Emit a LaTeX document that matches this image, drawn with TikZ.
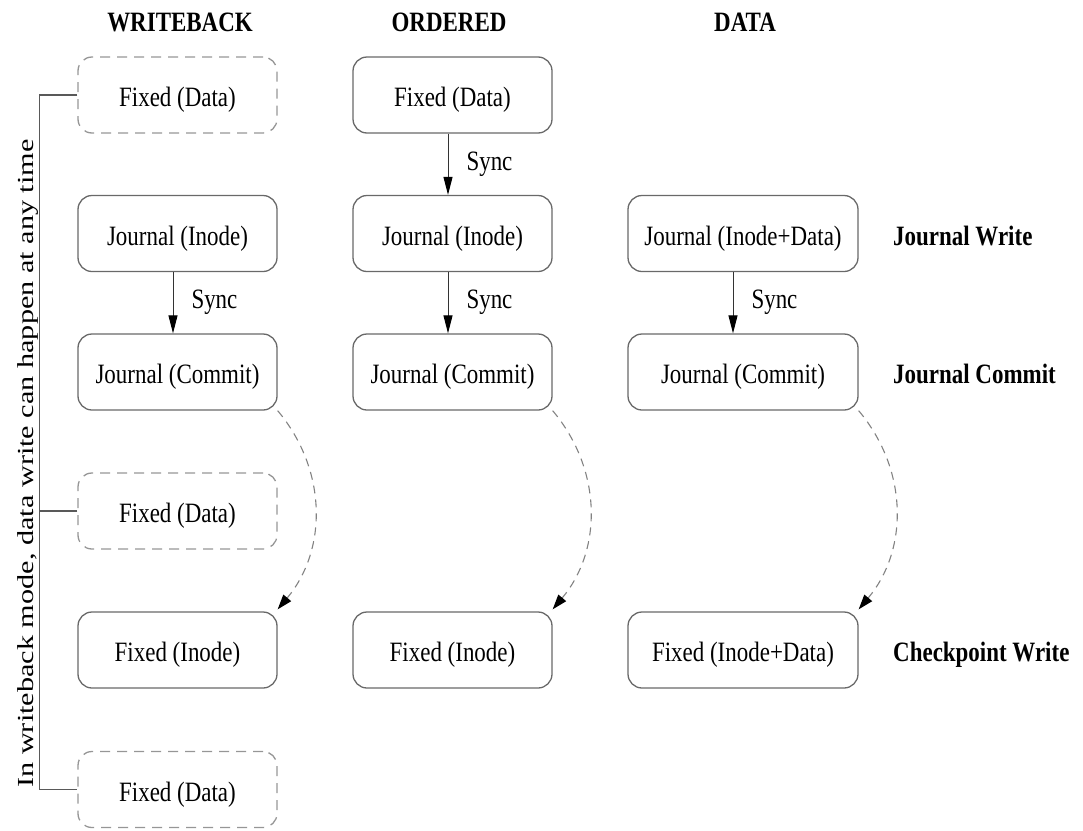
\documentclass[tikz,border=0pt]{standalone}
\usepackage{graphicx}
\usepackage{fontspec}
\setmainfont{Liberation Serif}[FakeStretch=0.82]
\newfontfamily\uprightserif{Liberation Serif}
\usetikzlibrary{arrows.meta}

\definecolor{boxgray}{RGB}{105,105,105}
\definecolor{dashgray}{RGB}{150,150,150}
\definecolor{linkgray}{RGB}{130,130,130}

\begin{document}
\begin{tikzpicture}[x=1pt,y=-1pt,
  txt/.style={font=\fontsize{28}{32}\selectfont, text height=23pt, text depth=0pt, inner sep=0pt},
  box/.style={txt, draw=boxgray, line width=1.3pt, rounded corners=14pt,
    minimum height=76pt, minimum width=199pt},
  widebox/.style={box, minimum width=230pt},
  ghost/.style={box, draw=dashgray, dash pattern=on 10pt off 7pt},
  hdr/.style={font=\bfseries\fontsize{28}{32}\selectfont, inner sep=0pt, anchor=base},
  phase/.style={txt, font=\bfseries\fontsize{28}{32}\selectfont, anchor=west},
  synclbl/.style={font=\fontsize{28}{32}\selectfont, inner sep=0pt, anchor=base west, xshift=18pt, yshift=-6pt},
  sync/.style={draw=black!80, line width=1pt, -{Triangle[length=18pt,width=9pt,color=black]}},
  flow/.style={draw=linkgray, line width=1.1pt, dash pattern=on 8pt off 6pt,
    -{Triangle[length=15pt,width=10pt,color=black]}},
  bracket/.style={draw=black!65, line width=1.3pt}
]
\useasboundingbox (0,0) rectangle (1083,830);

% column headings
\node[hdr] (hwb)  at (180,31) {WRITEBACK};
\node[hdr] (hord) at (449,31) {ORDERED};
\node[hdr] (hdat) at (745,31) {DATA};

% writeback mode
\node[ghost] (wfd1) at (177.5,95)    {Fixed (Data)};
\node[box]   (wji)  at (177.5,233.5) {Journal (Inode)};
\node[box]   (wjc)  at (177.5,372)   {Journal (Commit)};
\node[ghost] (wfd2) at (177.5,511)   {Fixed (Data)};
\node[box]   (wfi)  at (177.5,650)   {Fixed (Inode)};
\node[ghost] (wfd3) at (177.5,789.5) {Fixed (Data)};

% ordered mode
\node[box] (ofd) at (452.5,95)    {Fixed (Data)};
\node[box] (oji) at (452.5,233.5) {Journal (Inode)};
\node[box] (ojc) at (452.5,372)   {Journal (Commit)};
\node[box] (ofi) at (452.5,650)   {Fixed (Inode)};

% data mode
\node[widebox] (dji) at (743,233.5) {Journal (Inode+Data)};
\node[widebox] (djc) at (743,372)   {Journal (Commit)};
\node[widebox] (dfi) at (743,650)   {Fixed (Inode+Data)};

% phase names
\node[phase] (pjw) at (893,233.5) {Journal Write};
\node[phase] (pjc) at (893,372)   {Journal Commit};
\node[phase] (pcw) at (893,650)   {Checkpoint Write};

% sync barriers
\draw[sync] ([xshift=-4.5pt]wji.south) -- ([xshift=-4.5pt]wjc.north)
  node[synclbl, midway] (s1) {Sync};
\draw[sync] ([xshift=-4.5pt]ofd.south) -- ([xshift=-4.5pt]oji.north)
  node[synclbl, midway] (s2) {Sync};
\draw[sync] ([xshift=-4.5pt]oji.south) -- ([xshift=-4.5pt]ojc.north)
  node[synclbl, midway] (s3) {Sync};
\draw[sync] ([xshift=-10pt]dji.south) -- ([xshift=-10pt]djc.north)
  node[synclbl, midway] (s4) {Sync};

% later checkpoint
\draw[flow] (wjc.south east) to[bend left=40] ([yshift=2pt]wfi.north east);
\draw[flow] (ojc.south east) to[bend left=40] ([yshift=2pt]ofi.north east);
\draw[flow] (djc.south east) to[bend left=40] ([yshift=2pt]dfi.north east);

% data writes that may happen at any time in writeback mode
\draw[bracket] (wfd1.west) -- ++(-38,0) |- (wfd3.west);
\draw[bracket] (wfd2.west) -- ++(-38,0);
\node[rotate=90, anchor=base, inner sep=0pt,
  font=\uprightserif\fontsize{28}{32}\selectfont] (note) at (33,463.5)
  {\scalebox{1.08}[0.82]{In writeback mode, data write can happen at any time}};
\end{tikzpicture}
\end{document}
